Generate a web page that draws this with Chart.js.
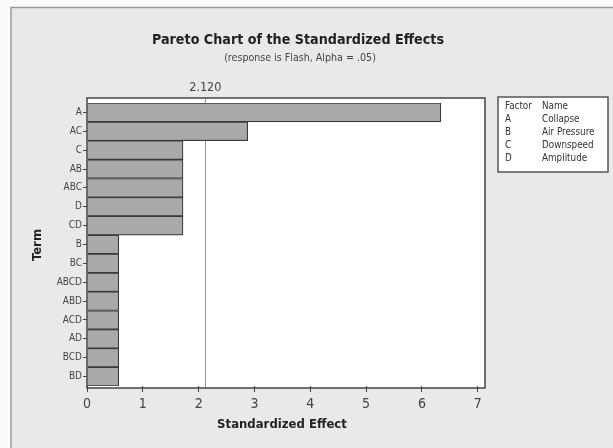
<!DOCTYPE html>
<html>
<head>
<meta charset="utf-8">
<script src="https://cdn.jsdelivr.net/npm/chart.js@4"></script>
<style>
  html, body { margin: 0; padding: 0; background: #fafafa; }
  #wrap { width: 613px; height: 448px; position: relative; }
</style>
</head>
<body>
<div id="wrap"><canvas id="pareto" width="613" height="448"></canvas></div>
<script>
// datos
const terminos = ['A', 'AC', 'C', 'AB', 'ABC', 'D', 'CD', 'B', 'BC', 'ABCD', 'ABD', 'ACD', 'AD', 'BCD', 'BD'];
const efectos = [6.34, 2.88, 1.72, 1.72, 1.72, 1.72, 1.72, 0.57, 0.57, 0.57, 0.57, 0.57, 0.57, 0.57, 0.57];
const valorCritico = 2.120;
const ticksX = [0, 1, 2, 3, 4, 5, 6, 7];
const factores = ['A', 'B', 'C', 'D'];
const nombres = ['Collapse', 'Air Pressure', 'Downspeed', 'Amplitude'];

const fuente = '"DejaVu Sans Condensed", "Liberation Sans Narrow", sans-serif';

// fondo, marco, título, línea crítica y tabla de factores
const decoracion = {
    id: 'decoracion',
    beforeDraw(chart) {
        const { ctx, chartArea: a } = chart;
        ctx.save();
        ctx.fillStyle = '#fafafa';
        ctx.fillRect(0, 0, chart.width, chart.height);
        ctx.fillStyle = '#e9e9e9';
        ctx.fillRect(11, 7, chart.width - 11, chart.height - 7);
        ctx.strokeStyle = '#9a9a9a';
        ctx.lineWidth = 1.5;
        ctx.beginPath();
        ctx.moveTo(11, chart.height);
        ctx.lineTo(11, 7.5);
        ctx.lineTo(chart.width, 7.5);
        ctx.stroke();
        // área blanca del gráfico
        ctx.fillStyle = '#ffffff';
        ctx.fillRect(a.left, a.top - 5, a.right - a.left, a.bottom - a.top + 7);
        // línea crítica
        const x = chart.scales.x.getPixelForValue(valorCritico);
        ctx.strokeStyle = '#9a9a9a';
        ctx.lineWidth = 1;
        ctx.beginPath();
        ctx.moveTo(Math.round(x) + 0.5, a.top - 5);
        ctx.lineTo(Math.round(x) + 0.5, a.bottom + 2);
        ctx.stroke();
        ctx.restore();
    },
    afterDraw(chart) {
        const { ctx, chartArea: a } = chart;
        ctx.save();
        // marco del área
        ctx.strokeStyle = '#444';
        ctx.lineWidth = 1.5;
        ctx.strokeRect(a.left, a.top - 5, a.right - a.left, a.bottom - a.top + 7);
        // títulos
        ctx.fillStyle = '#222';
        ctx.textAlign = 'center';
        ctx.textBaseline = 'middle';
        ctx.font = 'bold 14.2px ' + fuente;
        ctx.fillText('Pareto Chart of the Standardized Effects', 298, 40);
        ctx.fillStyle = '#444';
        ctx.font = '10.6px ' + fuente;
        ctx.fillText('(response is Flash, Alpha = .05)', 300, 58);
        const x = chart.scales.x.getPixelForValue(valorCritico);
        ctx.font = '12.5px ' + fuente;
        ctx.fillText(valorCritico.toFixed(3), x, 88);
        // tabla de factores
        ctx.fillStyle = '#ffffff';
        ctx.fillRect(498, 97, 110, 75);
        ctx.strokeStyle = '#555';
        ctx.lineWidth = 1.5;
        ctx.strokeRect(498, 97, 110, 75);
        ctx.fillStyle = '#333';
        ctx.textAlign = 'left';
        ctx.font = '9.8px ' + fuente;
        ctx.fillText('Factor', 505, 106);
        ctx.fillText('Name', 542, 106);
        factores.forEach((f, i) => {
            ctx.fillText(f, 505, 119 + i * 13.3);
            ctx.fillText(nombres[i], 542, 119 + i * 13.3);
        });
        // etiquetas de ejes
        ctx.fillStyle = '#222';
        ctx.textAlign = 'center';
        ctx.font = 'bold 13px ' + fuente;
        ctx.fillText('Standardized Effect', (a.left + a.right) / 2 - 4, 425);
        ctx.translate(38, 245);
        ctx.rotate(-Math.PI / 2);
        ctx.fillText('Term', 0, 0);
        ctx.restore();
    }
};

new Chart(document.getElementById('pareto'), {
    type: 'bar',
    data: {
        labels: terminos,
        datasets: [{
            data: efectos,
            backgroundColor: '#a9a9a9',
            borderColor: '#3a3a3a',
            borderWidth: 1.2,
            barPercentage: 1,
            categoryPercentage: 1
        }]
    },
    options: {
        indexAxis: 'y',
        responsive: false,
        animation: false,
        layout: { padding: { left: 0, right: 128, top: 103, bottom: 0 } },
        plugins: { legend: { display: false }, tooltip: { enabled: false } },
        scales: {
            x: {
                min: 0,
                max: 7.13,
                afterBuildTicks: s => { s.ticks = ticksX.map(v => ({ value: v })); },
                afterFit: s => { s.height = 62; },
                grid: { drawOnChartArea: false, drawTicks: true, tickLength: 6, color: '#444' },
                border: { display: false },
                ticks: { color: '#444', font: { family: fuente, size: 14 }, padding: 4 }
            },
            y: {
                afterFit: s => { s.width = 87; },
                grid: { drawOnChartArea: false, drawTicks: true, tickLength: 4, color: '#444', offset: false },
                border: { display: false },
                ticks: { color: '#444', font: { family: fuente, size: 10 }, padding: 1 }
            }
        }
    },
    plugins: [decoracion]
});
</script>
</body>
</html>
